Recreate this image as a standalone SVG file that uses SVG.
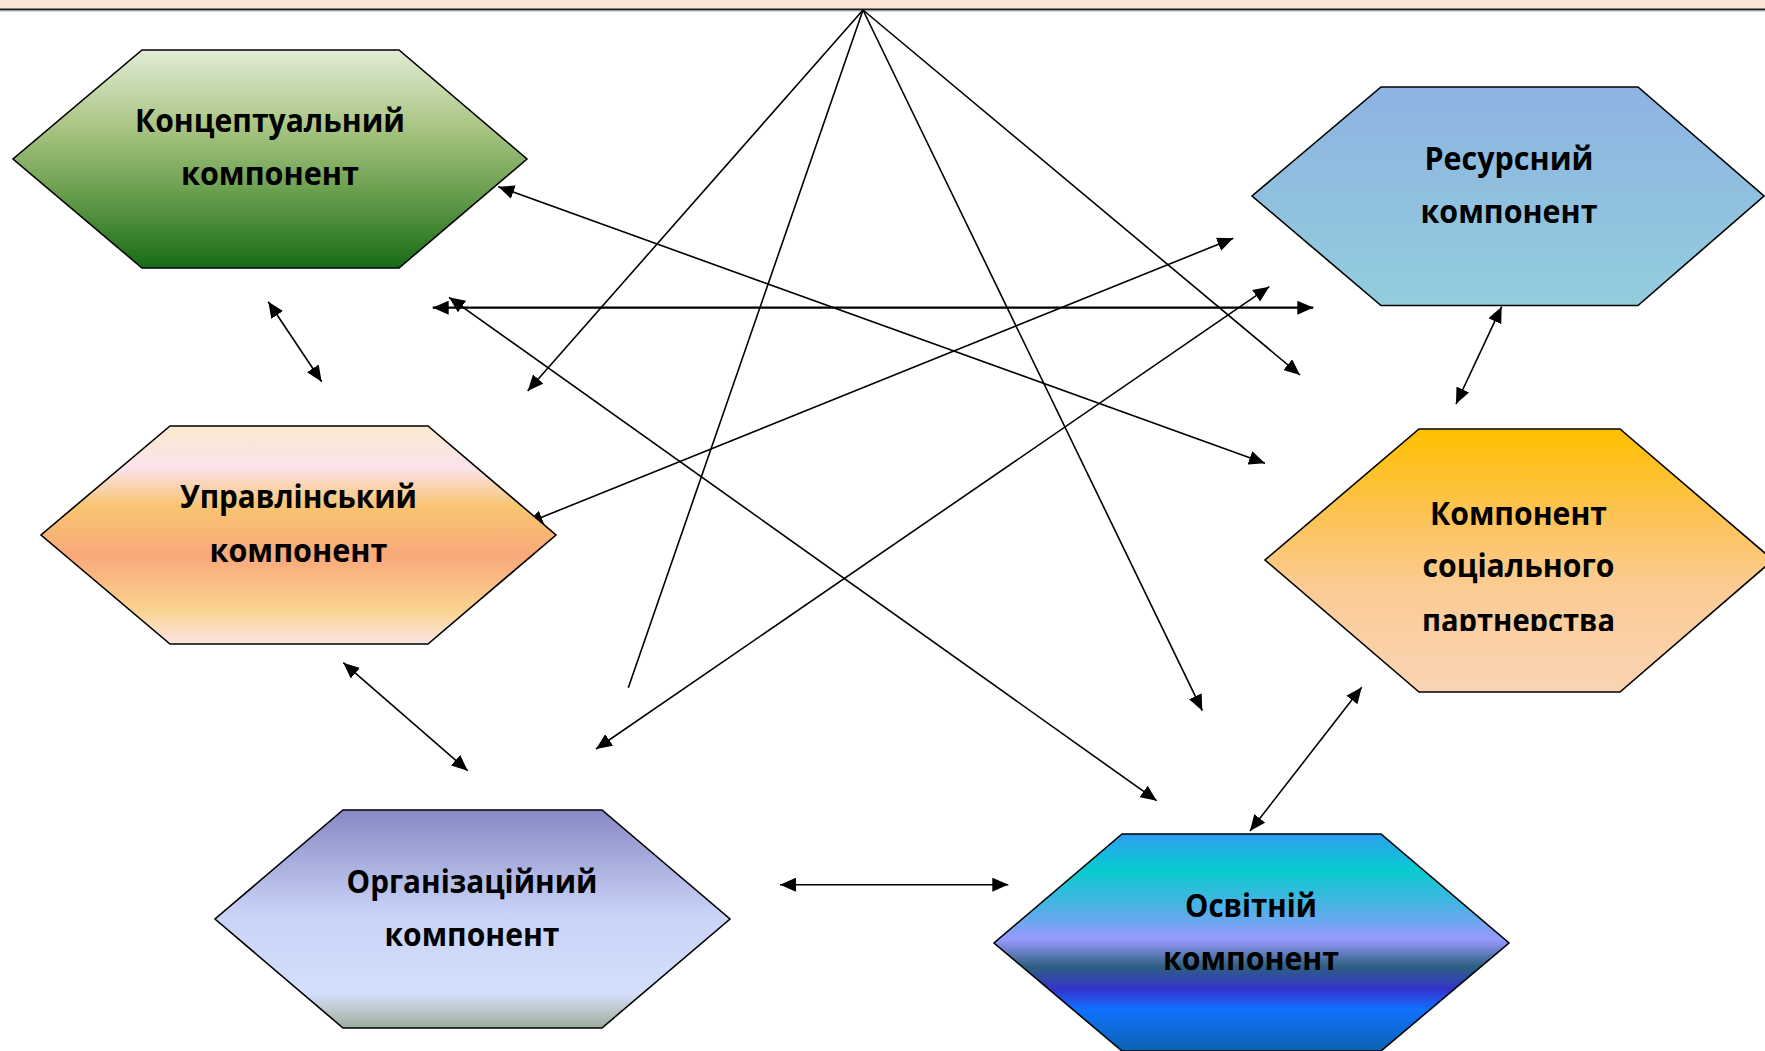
<svg xmlns="http://www.w3.org/2000/svg" width="1765" height="1051" viewBox="0 0 1765 1051">
  <defs>
    <style>
      .hex { stroke: #000; stroke-width: 1.6; stroke-linejoin: miter; }
      .lbl { font-family: "Open Sans", "Noto Sans", "DejaVu Sans", sans-serif; font-weight: 700; font-size: 33px; fill: #000; text-anchor: middle; }
      .con { stroke: #000; stroke-width: 1.6; fill: none; }
      .thick { stroke-width: 2.2; }
      .two { marker-start: url(#arr); marker-end: url(#arr); }
      .one { marker-end: url(#arr); }
    </style>
    <marker id="arr" viewBox="0 0 16 14" refX="16" refY="7" markerWidth="16" markerHeight="14" markerUnits="userSpaceOnUse" orient="auto-start-reverse">
      <path d="M0,0 L16,7 L0,14 Z" fill="#000"/>
    </marker>
    <linearGradient id="gGreen" x1="0" y1="0" x2="0" y2="1">
      <stop offset="0" stop-color="#E0ECD5"/>
      <stop offset="0.35" stop-color="#AAC584"/>
      <stop offset="0.65" stop-color="#6A9F4F"/>
      <stop offset="1" stop-color="#176B16"/>
    </linearGradient>
    <linearGradient id="gPeach" x1="0" y1="0" x2="0" y2="1">
      <stop offset="0" stop-color="#FAE9CD"/>
      <stop offset="0.19" stop-color="#FBE3EC"/>
      <stop offset="0.37" stop-color="#F8C471"/>
      <stop offset="0.6" stop-color="#F8A97A"/>
      <stop offset="0.84" stop-color="#FAD28F"/>
      <stop offset="1" stop-color="#FCE5E3"/>
    </linearGradient>
    <linearGradient id="gViolet" x1="0" y1="0" x2="0" y2="1">
      <stop offset="0" stop-color="#8789C4"/>
      <stop offset="0.48" stop-color="#C9D3F7"/>
      <stop offset="0.84" stop-color="#D3DFFC"/>
      <stop offset="0.93" stop-color="#B9C4C6"/>
      <stop offset="1" stop-color="#98AC9B"/>
    </linearGradient>
    <linearGradient id="gOcean" x1="0" y1="0" x2="0" y2="1">
      <stop offset="0" stop-color="#2E9EF0"/>
      <stop offset="0.165" stop-color="#07CBCF"/>
      <stop offset="0.36" stop-color="#56AEE8"/>
      <stop offset="0.486" stop-color="#9999FF"/>
      <stop offset="0.61" stop-color="#2E6080"/>
      <stop offset="0.716" stop-color="#3333CC"/>
      <stop offset="0.807" stop-color="#1071FE"/>
      <stop offset="1" stop-color="#0B63B0"/>
    </linearGradient>
    <linearGradient id="gBlue" x1="0" y1="0" x2="0" y2="1">
      <stop offset="0" stop-color="#8DB3E2"/>
      <stop offset="1" stop-color="#93CDDD"/>
    </linearGradient>
    <linearGradient id="gOrange" x1="0" y1="0" x2="0" y2="1">
      <stop offset="0" stop-color="#FFC000"/>
      <stop offset="0.35" stop-color="#FDC35A"/>
      <stop offset="0.6" stop-color="#FBCB94"/>
      <stop offset="1" stop-color="#FAD4B4"/>
    </linearGradient>
    <clipPath id="clip6">
      <rect x="1265" y="429" width="500" height="202"/>
    </clipPath>
  </defs>

  <rect x="0" y="0" width="1765" height="1051" fill="#FFFFFF"/>

  <g id="top-band">
    <rect x="0" y="0" width="1765" height="9" fill="#FBE5D6"/>
    <line x1="0" y1="9.5" x2="1765" y2="9.5" stroke="#1A1A1A" stroke-width="2"/>
    <line x1="0" y1="11" x2="1765" y2="11" stroke="#B0B0B0" stroke-width="1"/>
  </g>

  <g id="connectors">
    <line class="con one" x1="863" y1="10" x2="527.7" y2="391"/>
    <line class="con" x1="863" y1="10" x2="628.3" y2="687.7"/>
    <line class="con one" x1="863" y1="10" x2="1202.3" y2="710.7"/>
    <line class="con one" x1="863" y1="10" x2="1300" y2="375"/>
    <line class="con two" x1="498.3" y1="186.7" x2="1265" y2="463.3"/>
    <line class="con two thick" x1="432.7" y1="307.7" x2="1313.3" y2="307.7"/>
    <line class="con two" x1="449" y1="297.3" x2="1156.7" y2="800.7"/>
    <line class="con two" x1="526.7" y1="523.3" x2="1233.3" y2="238.3"/>
    <line class="con two" x1="596" y1="749" x2="1269.3" y2="286.7"/>
    <line class="con two" x1="268.3" y1="301.7" x2="321.7" y2="381.7"/>
    <line class="con two" x1="343.3" y1="662.7" x2="467.7" y2="770.7"/>
    <line class="con two" x1="780" y1="884.7" x2="1008.3" y2="884.7"/>
    <line class="con two" x1="1501.7" y1="306.7" x2="1456" y2="404"/>
    <line class="con two" x1="1361.7" y1="687.3" x2="1250" y2="831"/>
  </g>

  <g id="node-conceptual">
    <polygon class="hex" fill="url(#gGreen)" points="142,50 399,50 527,159 399,268 142,268 13,159"/>
    <text class="lbl" x="270" y="132" textLength="270" lengthAdjust="spacingAndGlyphs">Концептуальний</text>
    <text class="lbl" x="270" y="185" textLength="178" lengthAdjust="spacingAndGlyphs">компонент</text>
  </g>

  <g id="node-management">
    <polygon class="hex" fill="url(#gPeach)" points="170,426 428,426 556,535 428,644 170,644 41,535"/>
    <text class="lbl" x="298.5" y="508" textLength="237" lengthAdjust="spacingAndGlyphs">Управлінський</text>
    <text class="lbl" x="298.5" y="562" textLength="178" lengthAdjust="spacingAndGlyphs">компонент</text>
  </g>

  <g id="node-organizational">
    <polygon class="hex" fill="url(#gViolet)" points="343,810 602,810 730,919 602,1028 343,1028 215,919"/>
    <text class="lbl" x="472" y="893" textLength="251" lengthAdjust="spacingAndGlyphs">Організаційний</text>
    <text class="lbl" x="472" y="946" textLength="175" lengthAdjust="spacingAndGlyphs">компонент</text>
  </g>

  <g id="node-educational">
    <polygon class="hex" fill="url(#gOcean)" points="1122,834 1381,834 1509,943 1381,1051 1122,1051 994,943"/>
    <text class="lbl" x="1251" y="917" textLength="132" lengthAdjust="spacingAndGlyphs">Освітній</text>
    <text class="lbl" x="1251" y="970" textLength="176" lengthAdjust="spacingAndGlyphs">компонент</text>
  </g>

  <g id="node-resource">
    <polygon class="hex" fill="url(#gBlue)" points="1381,87 1638,87 1764,196 1638,305.5 1381,305.5 1252,196"/>
    <text class="lbl" x="1509" y="170" textLength="169" lengthAdjust="spacingAndGlyphs">Ресурсний</text>
    <text class="lbl" x="1509" y="223" textLength="177" lengthAdjust="spacingAndGlyphs">компонент</text>
  </g>

  <g id="node-partnership">
    <polygon class="hex" fill="url(#gOrange)" points="1419,429 1620,429 1773,560 1620,692 1419,692 1265,560"/>
    <text class="lbl" x="1518.5" y="525" textLength="177" lengthAdjust="spacingAndGlyphs">Компонент</text>
    <text class="lbl" x="1518.5" y="577" textLength="192" lengthAdjust="spacingAndGlyphs">соціального</text>
    <text class="lbl" x="1518.5" y="632" textLength="193" lengthAdjust="spacingAndGlyphs" clip-path="url(#clip6)">партнерства</text>
  </g>
</svg>
